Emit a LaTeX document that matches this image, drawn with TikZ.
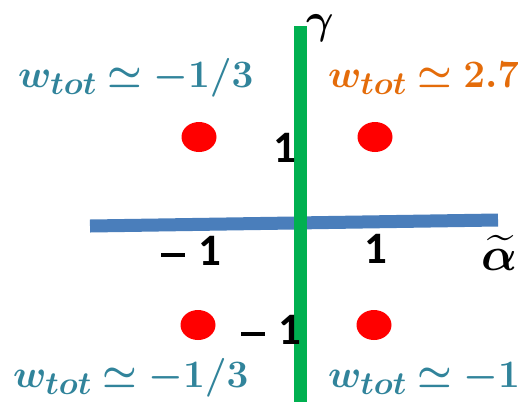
\documentclass[tikz,border=0pt]{standalone}
\usepackage{amsmath}
\usepackage{bm}
\usepackage{graphicx}
\usepackage{fontspec}
\newfontfamily\numfont{Carlito}
\definecolor{tealw}{HTML}{31849B}
\definecolor{orangew}{HTML}{E46C0A}
\definecolor{greenax}{HTML}{00B050}
\definecolor{blueax}{HTML}{4A7EBB}
\newcommand{\scmath}[2]{\scalebox{#1}{\Huge$\boldsymbol{#2}$}}
\newcommand{\longminus}{\rule[0.19em]{0.52em}{0.08em}}
\tikzset{
  wlab/.style={inner sep=0pt, anchor=base west},
  tick/.style={inner sep=0pt, font=\numfont\bfseries\fontsize{45}{52}\selectfont},
  dot/.style={ellipse, fill=red, minimum width=35pt, minimum height=30pt, inner sep=0pt},
  axis/.style={line width=13pt}
}
\usetikzlibrary{shapes.geometric}
\begin{document}
\begin{tikzpicture}[x=1pt,y=-1pt]
\useasboundingbox (0,0) rectangle (518,402);
\clip (0,0) rectangle (518,402);
\fill[white] (0,0) rectangle (518,402);
% axes
\coordinate (bl) at (90,226);
\coordinate (br) at (498,220);
\coordinate (gt) at (300,26);
\coordinate (gb) at (300,402);
\draw[axis, blueax] (bl) -- (br);
\draw[axis, greenax] (gt) -- (gb);
% axis labels
\node[inner sep=0pt] (gam) at (320,28) {\scmath{1.7}{\gamma}};
\node[inner sep=0pt, anchor=west] (alp) at (481,253) {\scmath{1.9}{\widetilde{\alpha}}};
% ticks
\node[tick] (xm) at (191,251) {\longminus\hspace{0.3em}1};
\node[tick] (xp) at (376,249) {1};
\node[tick] (yp) at (285,148) {1};
\node[tick] (ym) at (271,330) {\longminus\hspace{0.3em}1};
% dots
\node[dot] (d1) at (199,137) {};
\node[dot] (d2) at (375,137) {};
\node[dot] (d3) at (198,325) {};
\node[dot] (d4) at (374,325) {};
% labels
\node[wlab, text=tealw] (tl) at (18,87) {\scmath{1.56}{w_{tot}\simeq -1/3}};
\node[wlab, text=orangew] (tr) at (328,87) {\scmath{1.56}{w_{tot}\simeq 2.7}};
\node[wlab, text=tealw] (bll) at (13,387) {\scmath{1.56}{w_{tot}\simeq -1/3}};
\node[wlab, text=tealw] (brl) at (328,387) {\scmath{1.56}{w_{tot}\simeq -1/3}};
\end{tikzpicture}
\end{document}
